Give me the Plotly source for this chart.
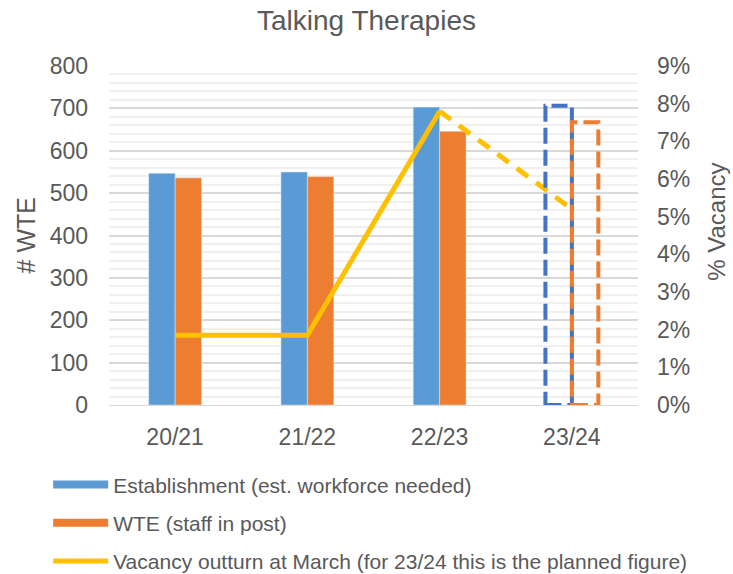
import plotly.graph_objects as go

# Financial years and workforce figures
years = ["20/21", "21/22", "22/23", "23/24"]
establishment = [547, 550, 703, None]
wte_in_post = [536, 539, 646, None]

# 23/24 planned figures (shown as dashed outlines)
planned_establishment = 706
planned_wte = 667

# Vacancy outturn (%) — 23/24 is the planned figure
vacancy = [1.85, 1.85, 7.8, 5.2]

BLUE = "#5B9BD5"
ORANGE = "#ED7D31"
DARK_BLUE = "#4472C4"
YELLOW = "#FFC000"
TEXT = "#595959"
FONT = "Liberation Sans, Arial, sans-serif"

idx = list(range(len(years)))
bar_w = 0.2

fig = go.Figure()

fig.add_trace(go.Bar(x=idx, y=establishment, marker_color=BLUE, showlegend=False,
                     name="Establishment (est. workforce needed)"))
fig.add_trace(go.Bar(x=idx, y=wte_in_post, marker_color=ORANGE, showlegend=False,
                     name="WTE (staff in post)"))

# Vacancy line: solid for actuals, dashed for the plan
fig.add_trace(go.Scatter(x=idx[:3], y=vacancy[:3], yaxis="y2", mode="lines",
                         line=dict(color=YELLOW, width=5), showlegend=False))
fig.add_trace(go.Scatter(x=idx[2:], y=vacancy[2:], yaxis="y2", mode="lines",
                         line=dict(color=YELLOW, width=5, dash="14px,10px"), showlegend=False))

# Legend entries drawn as wide swatches
fig.add_trace(go.Scatter(x=[None], y=[None], mode="lines", legendgroup="a",
                         line=dict(color=BLUE, width=8),
                         name="Establishment (est. workforce needed)"))
fig.add_trace(go.Scatter(x=[None], y=[None], mode="lines", legendgroup="b",
                         line=dict(color=ORANGE, width=8),
                         name="WTE (staff in post)"))
fig.add_trace(go.Scatter(x=[None], y=[None], mode="lines", legendgroup="c",
                         line=dict(color=YELLOW, width=5),
                         name="Vacancy outturn at March (for 23/24 this is the planned figure)"))

# Dashed outlines for the planned 23/24 bars
i_plan = idx[3]
fig.add_shape(type="rect", xref="x", yref="y",
              x0=i_plan - bar_w, x1=i_plan, y0=0, y1=planned_establishment,
              line=dict(color=DARK_BLUE, width=4, dash="16px,6px"), fillcolor="rgba(0,0,0,0)")
fig.add_shape(type="rect", xref="x", yref="y",
              x0=i_plan, x1=i_plan + bar_w, y0=0, y1=planned_wte,
              line=dict(color=ORANGE, width=4, dash="16px,6px"), fillcolor="rgba(0,0,0,0)")

# Axis titles placed as rotated annotations
fig.add_annotation(text="# WTE", xref="paper", yref="paper", x=-0.157, y=0.5,
                   xanchor="center", yanchor="middle", textangle=-90, showarrow=False,
                   font=dict(size=25, color=TEXT))
fig.add_annotation(text="% Vacancy", xref="paper", yref="paper", x=1.149, y=0.54,
                   xanchor="center", yanchor="middle", textangle=-90, showarrow=False,
                   font=dict(size=24, color=TEXT))

fig.update_layout(
    width=733, height=574,
    margin=dict(l=109, r=95, t=66, b=169, autoexpand=False),
    paper_bgcolor="white", plot_bgcolor="white",
    font=dict(family=FONT, color=TEXT),
    title=dict(text="Talking Therapies", x=0.5, xanchor="center", y=0.965, yanchor="middle",
               font=dict(size=28, color=TEXT)),
    barmode="group", bargap=0.6, bargroupgap=0,
    xaxis=dict(range=[-0.5, 3.5], tickvals=idx, ticktext=years, showgrid=False,
               showline=True, linecolor="#D9D9D9", ticks="", zeroline=False,
               tickangle=0, tickfont=dict(size=23, color=TEXT), ticklabelstandoff=11),
    yaxis=dict(range=[0, 800], dtick=100, gridcolor="#D9D9D9", gridwidth=1.5,
               minor=dict(dtick=20, showgrid=True, gridcolor="#F0F0F0", gridwidth=1.5),
               zeroline=False, showline=False, tickfont=dict(size=23, color=TEXT),
               ticklabelstandoff=20),
    yaxis2=dict(range=[0, 9], dtick=1, overlaying="y", side="right", showgrid=False,
                zeroline=False, ticksuffix="%", tickfont=dict(size=23, color=TEXT),
                ticklabelstandoff=18),
    legend=dict(orientation="v", x=-0.115, y=-0.175, xanchor="left", yanchor="top",
                font=dict(size=21, color=TEXT), tracegroupgap=8, itemwidth=55,
                bgcolor="rgba(0,0,0,0)"),
)

fig.write_html("out.html")
